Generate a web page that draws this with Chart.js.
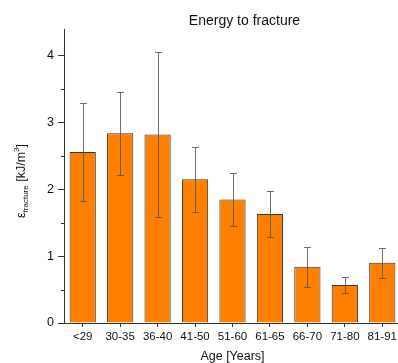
<!DOCTYPE html>
<html>
<head>
<meta charset="utf-8">
<title>Energy to fracture</title>
<script src="https://cdn.jsdelivr.net/npm/chart.js@4.4.1/dist/chart.umd.min.js"></script>
<style>
    html, body { margin: 0; padding: 0; background: #fff; overflow: hidden; }
    #wrap { width: 398px; height: 363px; overflow: hidden; }
</style>
</head>
<body>
<div id="wrap"><canvas id="chart" width="401" height="363"></canvas></div>
<script>
// Data
const categories = ['<29', '30-35', '36-40', '41-50', '51-60', '61-65', '66-70', '71-80', '81-91'];
const meanEnergy = [2.56, 2.84, 2.82, 2.15, 1.85, 1.63, 0.84, 0.57, 0.90];
const sdEnergy = [0.74, 0.62, 1.24, 0.49, 0.40, 0.34, 0.30, 0.125, 0.225];
const yTicks = [0, 1, 2, 3, 4];
const yMinorTicks = [0.5, 1.5, 2.5, 3.5];
const yMax = 4.4;

const FONT = "'Liberation Sans', Arial, sans-serif";
const AXIS_COLOR = '#333';

// Error bars drawn over the bars
const errorBars = {
    id: 'errorBars',
    afterDatasetsDraw(chart) {
        const ctx = chart.ctx;
        const yScale = chart.scales.y;
        const meta = chart.getDatasetMeta(0);
        ctx.save();
        ctx.strokeStyle = 'rgba(85,85,85,0.85)';
        ctx.lineWidth = 1;
        meta.data.forEach((bar, i) => {
            const x = Math.round(bar.x) + 0.5;
            const top = Math.round(yScale.getPixelForValue(meanEnergy[i] + sdEnergy[i])) + 0.5;
            const bot = Math.round(yScale.getPixelForValue(meanEnergy[i] - sdEnergy[i])) + 0.5;
            ctx.beginPath();
            ctx.moveTo(x, top);
            ctx.lineTo(x, bot);
            ctx.moveTo(x - 3.5, top);
            ctx.lineTo(x + 3.5, top);
            ctx.moveTo(x - 3.5, bot);
            ctx.lineTo(x + 3.5, bot);
            ctx.stroke();
        });
        ctx.restore();
    }
};

// Title, axis titles and minor ticks
const decorations = {
    id: 'decorations',
    afterDraw(chart) {
        const ctx = chart.ctx;
        const area = chart.chartArea;
        const yScale = chart.scales.y;
        const midX = (area.left + area.right) / 2;
        ctx.save();
        ctx.fillStyle = '#111';

        // minor ticks on the y axis
        ctx.strokeStyle = AXIS_COLOR;
        ctx.lineWidth = 1;
        yMinorTicks.forEach(v => {
            const py = Math.round(yScale.getPixelForValue(v)) + 0.5;
            ctx.beginPath();
            ctx.moveTo(area.left - 3, py);
            ctx.lineTo(area.left, py);
            ctx.stroke();
        });

        // chart title
        ctx.font = '14px ' + FONT;
        ctx.textAlign = 'center';
        ctx.textBaseline = 'alphabetic';
        ctx.fillText('Energy to fracture', midX + 12, 25);

        // x axis title
        ctx.font = '12.5px ' + FONT;
        ctx.fillText('Age [Years]', midX, 360);

        // y axis title with sub/superscript, rotated
        const parts = [
            { t: '\u03b5', size: 12.5, dy: 0 },
            { t: 'fracture', size: 8, dy: 3 },
            { t: ' [kJ/m', size: 12.5, dy: 0 },
            { t: '3', size: 8, dy: -6 },
            { t: ']', size: 12.5, dy: 0 }
        ];
        let total = 0;
        parts.forEach(p => {
            ctx.font = p.size + 'px ' + FONT;
            p.w = ctx.measureText(p.t).width;
            total += p.w;
        });
        ctx.translate(25, 181);
        ctx.rotate(-Math.PI / 2);
        ctx.textAlign = 'left';
        let x = -total / 2;
        parts.forEach(p => {
            ctx.font = p.size + 'px ' + FONT;
            ctx.fillText(p.t, x, p.dy);
            x += p.w;
        });
        ctx.restore();
    }
};

const ctx = document.getElementById('chart').getContext('2d');
new Chart(ctx, {
    type: 'bar',
    data: {
        labels: categories,
        datasets: [{
            data: meanEnergy,
            backgroundColor: '#FF8000',
            borderColor: '#333',
            borderWidth: 1,
            barPercentage: 0.7,
            categoryPercentage: 1.0
        }]
    },
    options: {
        responsive: false,
        animation: false,
        layout: {
            padding: { top: 29, left: 0, right: 0, bottom: 0 }
        },
        plugins: {
            legend: { display: false },
            tooltip: { enabled: false }
        },
        scales: {
            x: {
                offset: true,
                afterFit: scale => { scale.height = 40; },
                grid: {
                    display: true,
                    offset: false,
                    drawOnChartArea: false,
                    drawTicks: true,
                    tickLength: 4,
                    color: AXIS_COLOR
                },
                border: { display: true, color: AXIS_COLOR, width: 1 },
                ticks: {
                    color: '#111',
                    padding: 3,
                    maxRotation: 0,
                    autoSkip: false,
                    font: { family: FONT, size: 11.5 }
                }
            },
            y: {
                min: 0,
                max: yMax,
                afterFit: scale => { scale.width = 64; },
                afterBuildTicks: scale => { scale.ticks = yTicks.map(v => ({ value: v })); },
                grid: {
                    display: true,
                    drawOnChartArea: false,
                    drawTicks: true,
                    tickLength: 6,
                    color: AXIS_COLOR
                },
                border: { display: true, color: AXIS_COLOR, width: 1 },
                ticks: {
                    color: '#111',
                    padding: 4,
                    font: { family: FONT, size: 12.5 },
                    callback: v => String(v)
                }
            }
        }
    },
    plugins: [errorBars, decorations]
});
</script>
</body>
</html>
